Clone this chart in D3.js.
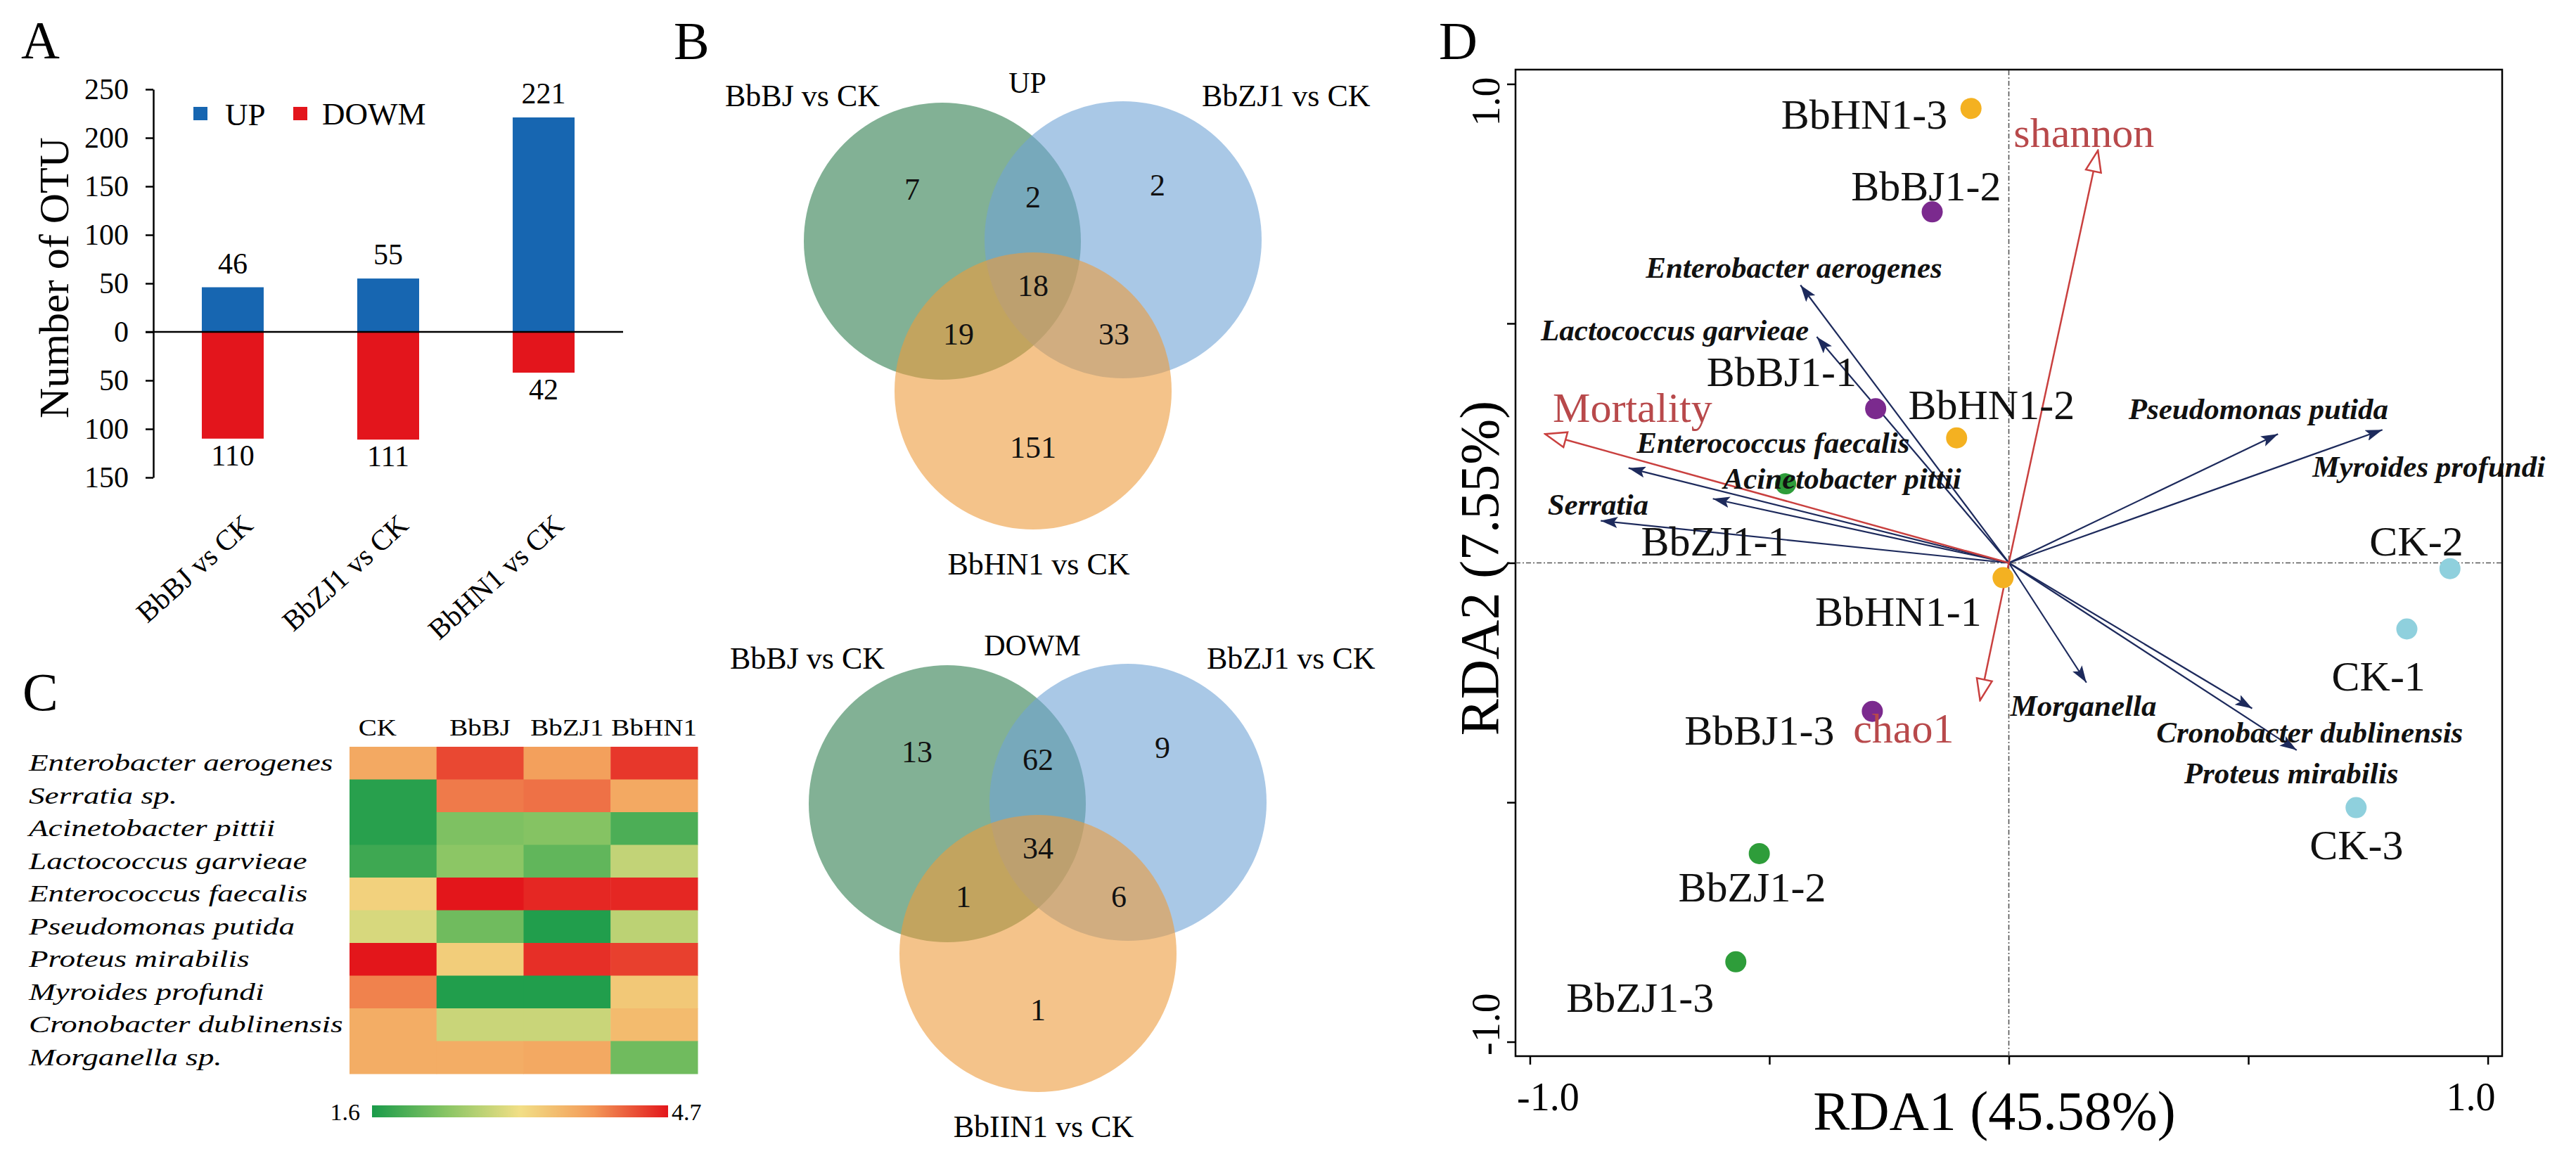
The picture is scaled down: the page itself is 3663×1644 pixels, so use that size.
<!DOCTYPE html>
<html>
<head>
<meta charset="utf-8">
<script src="https://cdn.jsdelivr.net/npm/d3@7"></script>
<style>
  html, body { margin: 0; padding: 0; background: #fff; }
  svg { display: block; font-family: "Liberation Serif", "Times New Roman", serif; }
</style>
</head>
<body>
<svg id="fig" width="3663" height="1644"></svg>
<script>
// panel A - number of differential OTUs
const comparisons = ["BbBJ vs CK", "BbZJ1 vs CK", "BbHN1 vs CK"];
const upCounts = [46, 55, 221];
const downCounts = [110, 111, 42];
const otuTicks = [250, 200, 150, 100, 50, 0, -50, -100, -150];

// panel B - venn region counts (1,2,3 = single sets, 12.. = overlaps)
const vennSetsUp = ["BbBJ vs CK", "BbZJ1 vs CK", "BbHN1 vs CK"];
const vennSetsDown = ["BbBJ vs CK", "BbZJ1 vs CK", "BbIIN1 vs CK"];
const vennRegions = ["1", "2", "3", "12", "13", "23", "123"];
const vennUp = [7, 2, 151, 2, 19, 33, 18];
const vennDown = [13, 9, 1, 62, 1, 6, 34];

// panel C - heatmap
const heatGroups = ["CK", "BbBJ", "BbZJ1", "BbHN1"];
const heatTaxa = ["Enterobacter aerogenes", "Serratia sp.", "Acinetobacter pittii", "Lactococcus garvieae",
  "Enterococcus faecalis", "Pseudomonas putida", "Proteus mirabilis", "Myroides profundi",
  "Cronobacter dublinensis", "Morganella sp."];
const heatValues = [
  [3.75, 4.4, 3.85, 4.5],
  [1.7, 4.1, 4.15, 3.75],
  [1.7, 2.3, 2.35, 1.95],
  [1.85, 2.4, 2.1, 2.8],
  [3.3, 4.7, 4.6, 4.6],
  [2.95, 2.2, 1.65, 2.75],
  [4.7, 3.35, 4.55, 4.45],
  [4.05, 1.65, 1.65, 3.4],
  [3.7, 2.85, 2.85, 3.55],
  [3.7, 3.7, 3.75, 2.2]
];
const heatRange = [1.6, 4.7];

// panel D - RDA biplot
const sampleNames = ["BbHN1-3", "BbBJ1-2", "BbBJ1-1", "BbHN1-2", "BbZJ1-1", "BbHN1-1",
  "BbBJ1-3", "BbZJ1-2", "BbZJ1-3", "CK-2", "CK-1", "CK-3"];
const sampleGroups = ["BbHN1", "BbBJ1", "BbBJ1", "BbHN1", "BbZJ1", "BbHN1",
  "BbBJ1", "BbZJ1", "BbZJ1", "CK", "CK", "CK"];
const sampleRDA1 = [-0.079, -0.160, -0.278, -0.109, -0.466, -0.012, -0.285, -0.521, -0.570, 0.921, 0.831, 0.725];
const sampleRDA2 = [0.949, 0.733, 0.322, 0.261, 0.165, -0.031, -0.310, -0.607, -0.833, -0.012, -0.138, -0.511];

const speciesNames = ["Enterobacter aerogenes", "Lactococcus garvieae", "Enterococcus faecalis",
  "Acinetobacter pittii", "Serratia", "Pseudomonas putida", "Myroides profundi", "Morganella",
  "Cronobacter dublinensis", "Proteus mirabilis"];
const speciesRDA1 = [-0.435, -0.401, -0.794, -0.618, -0.852, 0.562, 0.780, 0.162, 0.508, 0.601];
const speciesRDA2 = [0.580, 0.472, 0.198, 0.134, 0.088, 0.269, 0.278, -0.250, -0.304, -0.391];

const envNames = ["Mortality", "shannon", "chao1"];
const envRDA1 = [-0.968, 0.186, -0.060];
const envRDA2 = [0.269, 0.861, -0.287];

const rdaAxisTitles = ["RDA1 (45.58%)", "RDA2 (7.55%)"];

const svg = d3.select("#fig");
const defs = svg.append("defs");

function panelLetter(letter, x, y) {
  svg.append("text").attr("x", x).attr("y", y)
    .attr("font-size", 76).text(letter);
}

function renderBars() {
  const g = svg.append("g");
  const y = d3.scaleLinear().domain([-150, 250]).range([679, 127]);
  const x = d3.scaleBand().domain(comparisons).range([220, 884])
    .paddingInner(0.602).paddingOuter(0.303);
  const blue = "#1766b1", red = "#e3151c";

  const axis = d3.axisLeft(y).tickValues(otuTicks)
    .tickFormat(d => Math.abs(d)).tickSize(11).tickSizeOuter(0).tickPadding(24);
  const ax = g.append("g").attr("transform", "translate(218,0)").call(axis)
    .attr("font-family", "Liberation Serif");
  ax.select(".domain").attr("stroke-width", 2.5);
  ax.selectAll(".tick line").attr("stroke-width", 2.5);
  ax.selectAll(".tick text").attr("font-size", 42);

  g.selectAll(".up").data(upCounts).enter().append("rect")
    .attr("x", (d, i) => x(comparisons[i])).attr("width", x.bandwidth())
    .attr("y", d => y(d)).attr("height", d => y(0) - y(d)).attr("fill", blue);
  g.selectAll(".down").data(downCounts).enter().append("rect")
    .attr("x", (d, i) => x(comparisons[i])).attr("width", x.bandwidth())
    .attr("y", y(0)).attr("height", d => y(-d) - y(0)).attr("fill", red);

  g.append("line").attr("x1", 207).attr("x2", 886).attr("y1", y(0)).attr("y2", y(0))
    .attr("stroke", "#000").attr("stroke-width", 2.5);

  const mid = c => x(c) + x.bandwidth() / 2;
  g.selectAll(".uplab").data(upCounts).enter().append("text")
    .attr("x", (d, i) => mid(comparisons[i])).attr("y", d => y(d) - 20)
    .attr("text-anchor", "middle").attr("font-size", 42).text(d => d);
  g.selectAll(".downlab").data(downCounts).enter().append("text")
    .attr("x", (d, i) => mid(comparisons[i])).attr("y", d => y(-d) + 38)
    .attr("text-anchor", "middle").attr("font-size", 42).text(d => d);

  g.selectAll(".xlab").data(comparisons).enter().append("text")
    .attr("transform", d => `translate(${mid(d) + 31},750) rotate(-42)`)
    .attr("text-anchor", "end").attr("font-size", 41).text(d => d);

  g.append("text").attr("transform", "translate(97,395) rotate(-90)")
    .attr("text-anchor", "middle").attr("font-size", 60).text("Number of OTU");

  // legend
  g.append("rect").attr("x", 275).attr("y", 152).attr("width", 20).attr("height", 19).attr("fill", blue);
  g.append("text").attr("x", 320).attr("y", 178).attr("font-size", 45).text("UP");
  g.append("rect").attr("x", 417).attr("y", 152).attr("width", 20).attr("height", 19).attr("fill", red);
  g.append("text").attr("x", 458).attr("y", 177).attr("font-size", 45).text("DOWM");
}

function renderVenn(cx, cy, sets, title, values) {
  const g = svg.append("g").attr("transform", `translate(${cx},${cy})`);
  const r = 197;
  const circles = [
    { dx: -129, dy: -70, fill: "#2e7d4f" },
    { dx: 128, dy: -72, fill: "#6fa3d6" },
    { dx: 0, dy: 143, fill: "#ed9b3c" }
  ];
  g.selectAll("ellipse").data(circles).enter().append("ellipse")
    .attr("cx", d => d.dx).attr("cy", d => d.dy).attr("rx", r).attr("ry", r)
    .attr("fill", d => d.fill).attr("fill-opacity", 0.6);

  const regionPos = {
    "1": [-172, -144], "2": [177, -150], "3": [0, 223],
    "12": [0, -133], "13": [-106, 62], "23": [115, 62], "123": [0, -7]
  };
  g.selectAll(".num").data(values).enter().append("text")
    .attr("x", (d, i) => regionPos[vennRegions[i]][0])
    .attr("y", (d, i) => regionPos[vennRegions[i]][1])
    .attr("text-anchor", "middle").attr("dominant-baseline", "central")
    .attr("font-size", 44).attr("fill", "#111").text(d => d);

  g.append("text").attr("x", -438).attr("y", -262).attr("font-size", 44).text(sets[0]);
  g.append("text").attr("x", 240).attr("y", -262).attr("font-size", 44).text(sets[1]);
  g.append("text").attr("x", 8).attr("y", 404).attr("text-anchor", "middle")
    .attr("font-size", 44).text(sets[2]);
  g.append("text").attr("x", -8).attr("y", -281).attr("text-anchor", "middle")
    .attr("font-size", 42).text(title);
}

function renderHeatmap() {
  const g = svg.append("g");
  const x = d3.scaleBand().domain(heatGroups).range([497, 992]);
  const y = d3.scaleBand().domain(heatTaxa).range([1062, 1527]);
  const color = d3.scaleLinear()
    .domain([heatRange[0], 2.4, 3.15, 3.9, heatRange[1]])
    .range(["#1a9b4a", "#8cc665", "#f2df86", "#f39b59", "#e3161b"]);

  heatValues.forEach((row, i) => {
    g.selectAll(null).data(row).enter().append("rect")
      .attr("x", (d, j) => x(heatGroups[j])).attr("y", y(heatTaxa[i]))
      .attr("width", x.bandwidth() + 0.5).attr("height", y.bandwidth() + 0.5)
      .attr("fill", d => color(d));
  });

  g.selectAll(".taxon").data(heatTaxa).enter().append("text")
    .attr("transform", d => `translate(41,${y(d) + y.bandwidth() / 2 + 11}) scale(1.33,1)`)
    .attr("font-style", "italic").attr("font-size", 34).text(d => d);

  g.selectAll(".grp").data(heatGroups).enter().append("text")
    .attr("transform", d => `translate(${x(d) + x.bandwidth() / 2 - (d === "CK" ? 22 : 0)},1046) scale(1.15,1)`)
    .attr("text-anchor", "middle").attr("font-size", 34).text(d => d);

  const grad = defs.append("linearGradient").attr("id", "heatGrad");
  d3.range(0, 1.0001, 0.05).forEach(t => {
    grad.append("stop").attr("offset", t)
      .attr("stop-color", color(heatRange[0] + t * (heatRange[1] - heatRange[0])));
  });
  g.append("rect").attr("x", 529).attr("y", 1572).attr("width", 421).attr("height", 17)
    .attr("fill", "url(#heatGrad)");
  g.append("text").attr("x", 512).attr("y", 1593).attr("text-anchor", "end")
    .attr("font-size", 34).text(heatRange[0].toFixed(1));
  g.append("text").attr("x", 955).attr("y", 1593)
    .attr("font-size", 34).text(heatRange[1].toFixed(1));
}

function renderRDA() {
  const g = svg.append("g");
  const x = d3.scaleLinear().domain([-1.03, 1.03]).range([2155, 3558]);
  const y = d3.scaleLinear().domain([-1.03, 1.03]).range([1502, 99]);
  const navy = "#1d2a5c", envRed = "#c9403f", envText = "#b8494b";
  const groupColor = { BbHN1: "#f4b121", BbBJ1: "#7b2a8e", BbZJ1: "#2e9d3a", CK: "#8fd0dd" };

  defs.append("marker").attr("id", "headSp").attr("viewBox", "0 0 24 16")
    .attr("refX", 24).attr("refY", 8).attr("markerUnits", "userSpaceOnUse")
    .attr("markerWidth", 24).attr("markerHeight", 16).attr("orient", "auto")
    .append("path").attr("d", "M0,0L24,8L0,16L5,8z").attr("fill", navy);
  defs.append("marker").attr("id", "headEnv").attr("viewBox", "0 0 34 26")
    .attr("refX", 32).attr("refY", 13).attr("markerUnits", "userSpaceOnUse")
    .attr("markerWidth", 34).attr("markerHeight", 26).attr("orient", "auto")
    .append("path").attr("d", "M2,2L32,13L2,24z").attr("fill", "#fff")
    .attr("stroke", envRed).attr("stroke-width", 2.5);

  // axes ticks
  const tickVals = [-1, -0.5, 0, 0.5, 1];
  const bx = g.append("g").attr("transform", `translate(0,${y.range()[0]})`)
    .call(d3.axisBottom(x).tickValues(tickVals).tickSize(12).tickFormat(""));
  const ly = g.append("g").attr("transform", `translate(${x.range()[0]},0)`)
    .call(d3.axisLeft(y).tickValues(tickVals).tickSize(12).tickFormat(""));
  [bx, ly].forEach(a => {
    a.select(".domain").remove();
    a.selectAll(".tick line").attr("stroke-width", 2.5);
  });

  g.append("rect").attr("x", x.range()[0]).attr("y", y.range()[1])
    .attr("width", x.range()[1] - x.range()[0]).attr("height", y.range()[0] - y.range()[1])
    .attr("fill", "none").attr("stroke", "#000").attr("stroke-width", 2.5);

  g.append("line").attr("x1", x.range()[0]).attr("x2", x.range()[1]).attr("y1", y(0)).attr("y2", y(0))
    .attr("stroke", "#555").attr("stroke-width", 1.6).attr("stroke-dasharray", "7,3,2,3");
  g.append("line").attr("y1", y.range()[0]).attr("y2", y.range()[1]).attr("x1", x(0)).attr("x2", x(0))
    .attr("stroke", "#555").attr("stroke-width", 1.6).attr("stroke-dasharray", "7,3,2,3");

  g.append("text").attr("x", x(-1) + 26).attr("y", 1579).attr("text-anchor", "middle")
    .attr("font-size", 56).text("-1.0");
  g.append("text").attr("x", x(1) - 24).attr("y", 1579).attr("text-anchor", "middle")
    .attr("font-size", 56).text("1.0");
  g.append("text").attr("transform", `translate(2132,${y(1) + 25}) rotate(-90)`)
    .attr("text-anchor", "middle").attr("font-size", 56).text("1.0");
  g.append("text").attr("transform", `translate(2132,${y(-1) - 25}) rotate(-90)`)
    .attr("text-anchor", "middle").attr("font-size", 56).text("-1.0");

  g.append("text").attr("x", 2836).attr("y", 1606).attr("text-anchor", "middle")
    .attr("font-size", 78).text(rdaAxisTitles[0]);
  g.append("text").attr("transform", "translate(2130,808) rotate(-90)")
    .attr("text-anchor", "middle").attr("font-size", 78).text(rdaAxisTitles[1]);

  // species arrows
  g.selectAll(".sp").data(speciesNames).enter().append("line")
    .attr("x1", x(0)).attr("y1", y(0))
    .attr("x2", (d, i) => x(speciesRDA1[i])).attr("y2", (d, i) => y(speciesRDA2[i]))
    .attr("stroke", navy).attr("stroke-width", 2.2).attr("marker-end", "url(#headSp)");

  // environmental arrows
  g.selectAll(".env").data(envNames).enter().append("line")
    .attr("x1", x(0)).attr("y1", y(0))
    .attr("x2", (d, i) => x(envRDA1[i])).attr("y2", (d, i) => y(envRDA2[i]))
    .attr("stroke", envRed).attr("stroke-width", 2.5).attr("marker-end", "url(#headEnv)");

  g.selectAll(".pt").data(sampleNames).enter().append("circle")
    .attr("cx", (d, i) => x(sampleRDA1[i])).attr("cy", (d, i) => y(sampleRDA2[i]))
    .attr("r", 15).attr("fill", (d, i) => groupColor[sampleGroups[i]]);

  // label placement in data units: [x, y, anchor]
  const sampleLabelAt = {
    "BbHN1-3": [-0.128, 0.907, "end"], "BbBJ1-2": [-0.016, 0.757, "end"],
    "BbBJ1-1": [-0.631, 0.369, "start"], "BbHN1-2": [-0.210, 0.300, "start"],
    "BbZJ1-1": [-0.768, 0.015, "start"], "BbHN1-1": [-0.057, -0.132, "end"],
    "BbBJ1-3": [-0.364, -0.379, "end"], "BbZJ1-2": [-0.536, -0.707, "middle"],
    "BbZJ1-3": [-0.924, -0.938, "start"], "CK-2": [0.753, 0.015, "start"],
    "CK-1": [0.674, -0.266, "start"], "CK-3": [0.628, -0.619, "start"]
  };
  const speciesLabelAt = {
    "Enterobacter aerogenes": [-0.758, 0.595], "Lactococcus garvieae": [-0.977, 0.465],
    "Enterococcus faecalis": [-0.777, 0.230], "Acinetobacter pittii": [-0.596, 0.155],
    "Serratia": [-0.963, 0.100], "Pseudomonas putida": [0.250, 0.300],
    "Myroides profundi": [0.634, 0.180], "Morganella": [0.003, -0.319],
    "Cronobacter dublinensis": [0.308, -0.375], "Proteus mirabilis": [0.366, -0.460]
  };
  const envLabelAt = { "Mortality": [-0.952, 0.294], "shannon": [0.010, 0.868], "chao1": [-0.325, -0.375] };

  g.selectAll(".splab").data(speciesNames).enter().append("text")
    .attr("x", d => x(speciesLabelAt[d][0])).attr("y", d => y(speciesLabelAt[d][1]))
    .attr("font-size", 43).attr("font-weight", "bold").attr("font-style", "italic")
    .attr("fill", "#111").text(d => d);
  g.selectAll(".envlab").data(envNames).enter().append("text")
    .attr("x", d => x(envLabelAt[d][0])).attr("y", d => y(envLabelAt[d][1]))
    .attr("font-size", 60).attr("fill", envText).text(d => d);
  g.selectAll(".ptlab").data(sampleNames).enter().append("text")
    .attr("x", d => x(sampleLabelAt[d][0])).attr("y", d => y(sampleLabelAt[d][1]))
    .attr("text-anchor", d => sampleLabelAt[d][2])
    .attr("font-size", 60).attr("fill", "#111").text(d => d);
}

panelLetter("A", 30, 83);
panelLetter("B", 958, 84);
panelLetter("C", 32, 1010);
panelLetter("D", 2046, 84);
renderBars();
renderVenn(1469, 413, vennSetsUp, "UP", vennUp);
renderVenn(1476, 1213, vennSetsDown, "DOWM", vennDown);
renderHeatmap();
renderRDA();
</script>
</body>
</html>
